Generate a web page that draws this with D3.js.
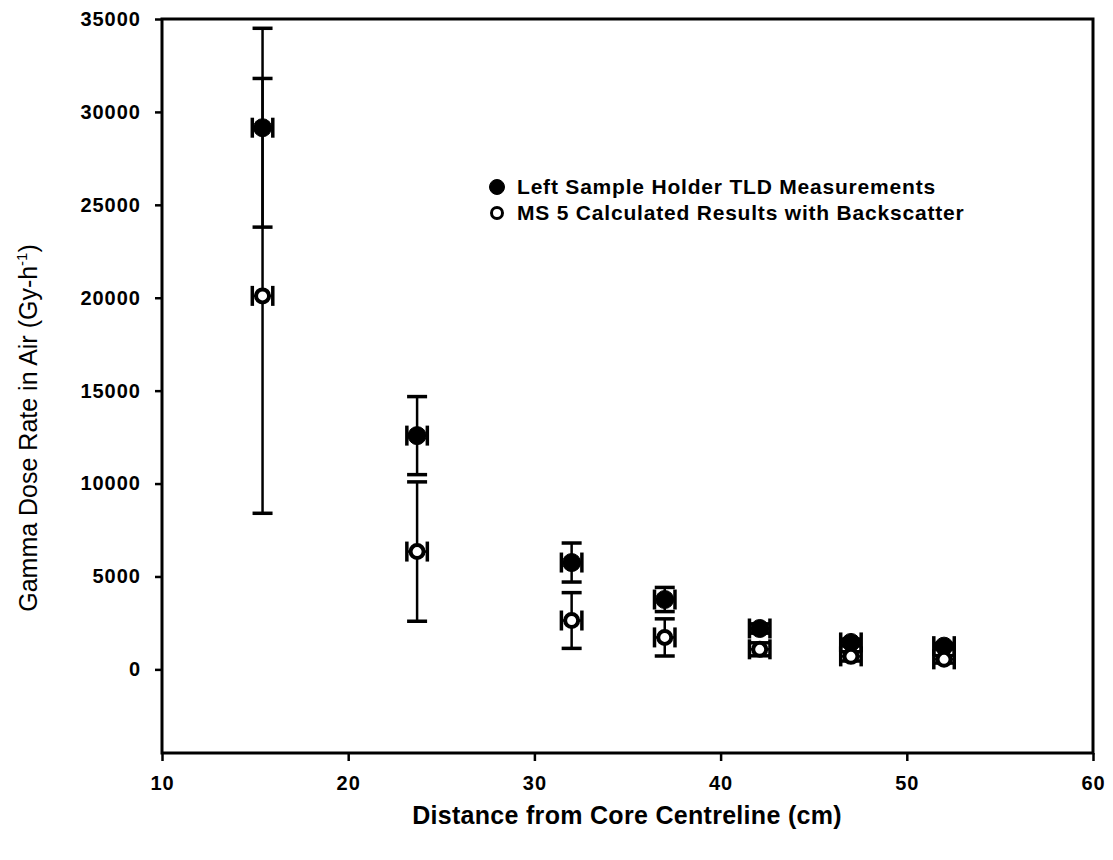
<!DOCTYPE html>
<html lang="en">
<head>
<meta charset="UTF-8">
<title>Gamma dose rate</title>
<script src="https://d3js.org/d3.v7.min.js"></script>
<style>
  body { margin: 0; background: #fff; }
  text { font-family: "Liberation Sans", Arial, sans-serif; fill: #000; }
  .tick-label { font-size: 20px; font-weight: bold; letter-spacing: 1px; }
  .err { stroke: #000; stroke-width: 2.5; fill: none; }
  .cap { stroke: #000; stroke-width: 3.5; fill: none; }
</style>
</head>
<body>
<script>
// data
var distance = [15.4, 23.7, 32.0, 37.0, 42.1, 47.0, 52.0];
var measured = [29150, 12580, 5750, 3760, 2200, 1450, 1250];
var measuredErr = [5350, 2100, 1050, 650, 250, 180, 150];
var calculated = [20100, 6340, 2630, 1720, 1080, 700, 540];
var calculatedErr = [11700, 3750, 1500, 1000, 350, 250, 200];
var xErr = 0.55;
var xTicks = [10, 20, 30, 40, 50, 60];
var yTicks = [0, 5000, 10000, 15000, 20000, 25000, 30000, 35000];
var seriesNames = ["Left Sample Holder TLD Measurements", "MS 5 Calculated Results with Backscatter"];

var W = 1113, H = 860;
var margin = {top: 19, right: 20, bottom: 107, left: 162};

var svg = d3.select("body").append("svg")
    .attr("width", W).attr("height", H);

var x = d3.scaleLinear().domain([10, 60]).range([margin.left, W - margin.right]);
var y = d3.scaleLinear().domain([-4500, 35000]).range([H - margin.bottom, margin.top]);

// frame
svg.append("rect")
    .attr("x", x(10)).attr("y", y(35000))
    .attr("width", x(60) - x(10)).attr("height", y(-4500) - y(35000))
    .attr("fill", "none").attr("stroke", "#000").attr("stroke-width", 3);

// y axis
var yAxis = svg.append("g")
    .attr("transform", "translate(" + x(10) + ",0)")
    .call(d3.axisLeft(y).tickValues(yTicks).tickSize(7).tickPadding(14).tickFormat(d3.format("d")));
yAxis.select(".domain").remove();
yAxis.selectAll(".tick line").attr("stroke", "#000").attr("stroke-width", 2.5);
yAxis.selectAll(".tick text").attr("class", "tick-label").attr("font-family", null).attr("font-size", null);

// x axis
var xAxis = svg.append("g")
    .attr("transform", "translate(0," + y(-4500) + ")")
    .call(d3.axisBottom(x).tickValues(xTicks).tickSize(8).tickPadding(15).tickFormat(d3.format("d")));
xAxis.select(".domain").remove();
xAxis.selectAll(".tick line").attr("stroke", "#000").attr("stroke-width", 2.5);
xAxis.selectAll(".tick text").attr("class", "tick-label").attr("font-family", null).attr("font-size", null);

// axis titles
svg.append("text")
    .attr("x", 627).attr("y", 824)
    .attr("text-anchor", "middle")
    .style("font-size", "25px").style("font-weight", "bold").style("letter-spacing", "0.3px")
    .text("Distance from Core Centreline (cm)");

var yt = svg.append("text")
    .attr("transform", "translate(37," + 428 + ") rotate(-90)")
    .attr("text-anchor", "middle")
    .style("font-size", "25px");
yt.append("tspan").text("Gamma Dose Rate in Air (Gy-h");
yt.append("tspan").attr("dy", -10).style("font-size", "15px").text("-1");
yt.append("tspan").attr("dy", 10).text(")");

var capW = 10, capH = 10;

function drawSeries(vals, errs, filled) {
  var g = svg.append("g");
  distance.forEach(function(d, i) {
    var cx = x(d), cy = y(vals[i]);
    var top = y(vals[i] + errs[i]), bot = y(vals[i] - errs[i]);
    g.append("line").attr("class", "err").attr("x1", cx).attr("x2", cx).attr("y1", top).attr("y2", bot);
    g.append("line").attr("class", "cap").attr("x1", cx - capW).attr("x2", cx + capW).attr("y1", top).attr("y2", top);
    g.append("line").attr("class", "cap").attr("x1", cx - capW).attr("x2", cx + capW).attr("y1", bot).attr("y2", bot);
    // horizontal error bars
    var xl = x(d - xErr), xr = x(d + xErr);
    g.append("line").attr("class", "err").attr("x1", xl).attr("x2", xr).attr("y1", cy).attr("y2", cy).attr("stroke-width", 5);
    g.append("line").attr("class", "cap").attr("x1", xl).attr("x2", xl).attr("y1", cy - capH).attr("y2", cy + capH);
    g.append("line").attr("class", "cap").attr("x1", xr).attr("x2", xr).attr("y1", cy - capH).attr("y2", cy + capH);
    g.append("circle").attr("cx", cx).attr("cy", cy)
      .attr("r", filled ? 9 : 6.5)
      .attr("fill", filled ? "#000" : "#fff")
      .attr("stroke", "#000").attr("stroke-width", filled ? 1 : 4);
  });
}

drawSeries(measured, measuredErr, true);
drawSeries(calculated, calculatedErr, false);

// legend
var legend = svg.append("g").attr("transform", "translate(497,187)");
seriesNames.forEach(function(name, i) {
  var row = legend.append("g").attr("transform", "translate(0," + (i * 26) + ")");
  row.append("circle").attr("r", i === 0 ? 7.5 : 5.5)
    .attr("fill", i === 0 ? "#000" : "#fff")
    .attr("stroke", "#000").attr("stroke-width", i === 0 ? 1 : 3);
  row.append("text").attr("x", 20).attr("y", 7)
    .style("font-size", "21px").style("font-weight", "bold").style("letter-spacing", "0.8px")
    .text(name);
});
</script>
</body>
</html>
